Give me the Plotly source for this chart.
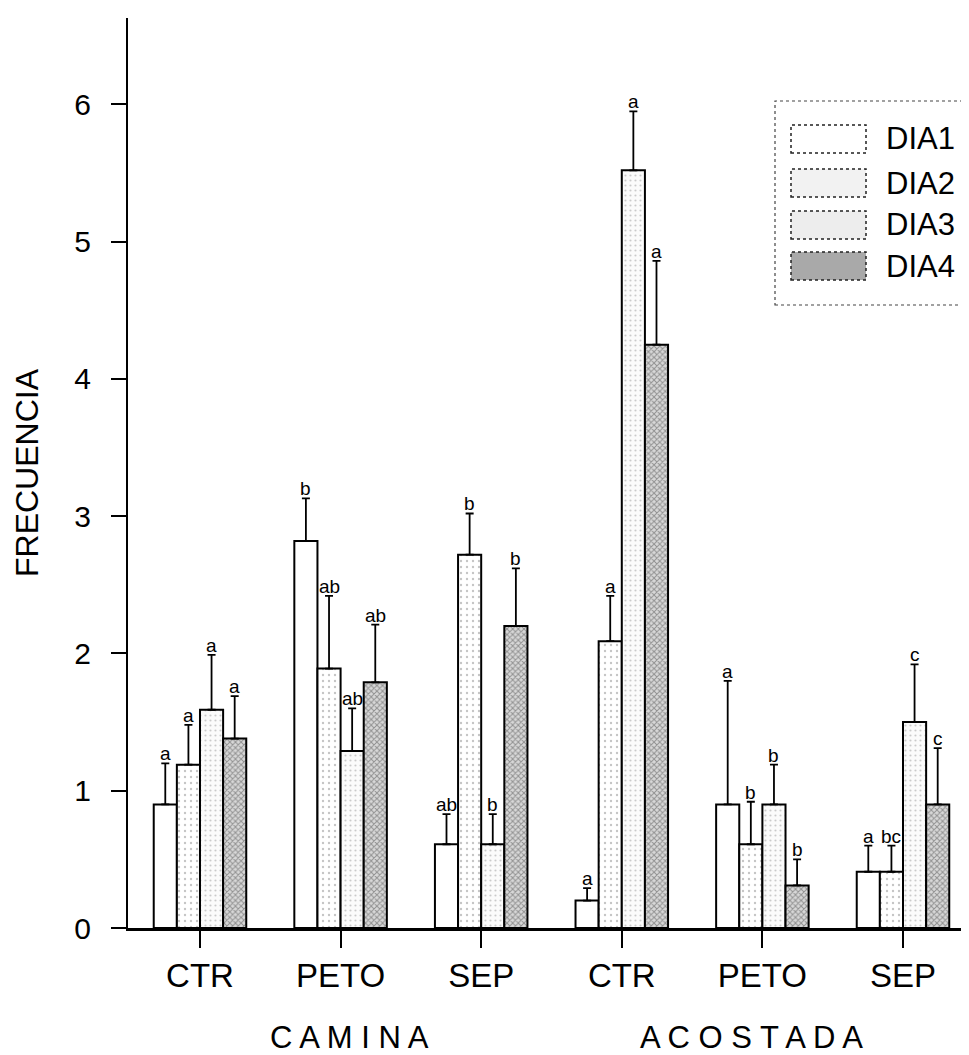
import plotly.graph_objects as go

# ---------------- data ----------------
groups = ["C A M I N A", "A C O S T A D A"]
conditions = ["CTR", "PETO", "SEP", "CTR", "PETO", "SEP"]
series = ["DIA1", "DIA2", "DIA3", "DIA4"]
y_ticks = [0, 1, 2, 3, 4, 5, 6]

dia1 = [0.90, 2.82, 0.61, 0.20, 0.90, 0.41]
dia2 = [1.19, 1.89, 2.72, 2.09, 0.61, 0.41]
dia3 = [1.59, 1.29, 0.61, 5.52, 0.90, 1.50]
dia4 = [1.38, 1.79, 2.20, 4.25, 0.31, 0.90]

err1 = [0.30, 0.31, 0.22, 0.09, 0.90, 0.19]
err2 = [0.29, 0.53, 0.30, 0.33, 0.31, 0.19]
err3 = [0.40, 0.31, 0.22, 0.43, 0.29, 0.42]
err4 = [0.31, 0.42, 0.42, 0.61, 0.19, 0.41]

let1 = ["a", "b", "ab", "a", "a", "a"]
let2 = ["a", "ab", "b", "a", "b", "bc"]
let3 = ["a", "ab", "b", "a", "b", "c"]
let4 = ["a", "ab", "b", "a", "b", "c"]

values = [dia1, dia2, dia3, dia4]
errors = [err1, err2, err3, err4]
letters = [let1, let2, let3, let4]

# ---------------- styles ----------------
FONT = "Liberation Sans, Arial, sans-serif"
W, H = 969, 1055
ML, MR, MT, MB = 120, 3, 10, 135
BAR_W = 0.1645
XR = [-0.512, 5.505]
YR = [0, 6.63]

patterns = [
    dict(shape="", fgcolor="black", bgcolor="white"),
    dict(shape=".", fgcolor="#8a8a8a", bgcolor="white", size=6, solidity=0.12),
    dict(shape=".", fgcolor="#9a9a9a", bgcolor="#fbfbfb", size=5, solidity=0.15),
    dict(shape="x", fgcolor="#4a4a4a", bgcolor="#d8d8d8", size=4, solidity=0.45),
]
swatch_fill = ["white", "#f2f2f2", "#ededed", "#a9a9a9"]

xpos = list(range(len(conditions)))

fig = go.Figure()
for k, name in enumerate(series):
    off = (k - 2) * BAR_W
    fig.add_trace(go.Bar(
        x=xpos, y=values[k], name=name,
        offset=off, width=BAR_W,
        marker=dict(color="white", pattern=patterns[k],
                    line=dict(color="black", width=2)),
        error_y=dict(type="data", symmetric=False, array=errors[k],
                     arrayminus=[0] * len(errors[k]),
                     color="black", thickness=1.8, width=4),
        showlegend=False,
    ))
    for i in xpos:
        fig.add_annotation(
            x=i + off + BAR_W / 2, y=values[k][i] + errors[k][i],
            text=letters[k][i], showarrow=False,
            xanchor="center", yanchor="bottom", yshift=-3,
            font=dict(family=FONT, size=19, color="black"),
        )

pw = W - ML - MR
ph = H - MT - MB


def px2x(px):
    return (px - ML) / pw


def py2y(py):
    return (MT + ph - py) / ph


# manual legend
fig.add_shape(type="rect", xref="paper", yref="paper",
              x0=px2x(767), x1=px2x(975), y0=py2y(297), y1=py2y(93),
              line=dict(color="#444", width=1.2, dash="dot"),
              fillcolor="white", layer="above")
row_c = [131, 175, 217, 258]
for k, name in enumerate(series):
    fig.add_shape(type="rect", xref="paper", yref="paper",
                  x0=px2x(783), x1=px2x(858),
                  y0=py2y(row_c[k] + 14), y1=py2y(row_c[k] - 14),
                  line=dict(color="#222", width=1.5, dash="dot"),
                  fillcolor=swatch_fill[k], layer="above")
    fig.add_annotation(xref="paper", yref="paper",
                       x=px2x(876), y=py2y(row_c[k]), text=name,
                       showarrow=False, xanchor="left", yanchor="middle",
                       font=dict(family=FONT, size=31, color="black"))

# group labels
group_x = [1.06, 3.92]
for g, gx in zip(groups, group_x):
    fig.add_annotation(x=gx, xref="x", yref="paper", y=py2y(1029),
                       text=g, showarrow=False, xanchor="center",
                       yanchor="middle",
                       font=dict(family=FONT, size=31, color="black"))

fig.update_layout(
    width=W, height=H,
    margin=dict(l=ML, r=MR, t=MT, b=MB),
    paper_bgcolor="white", plot_bgcolor="white",
    barmode="overlay",
    font=dict(family=FONT, color="black"),
    xaxis=dict(
        range=XR, tickmode="array", tickvals=xpos, ticktext=conditions,
        ticks="outside", ticklen=17, tickwidth=2, tickcolor="black",
        showline=True, linecolor="black", linewidth=2.5,
        showgrid=False, zeroline=False,
        tickfont=dict(family=FONT, size=33, color="black"),
        ticklabelstandoff=0,
    ),
    yaxis=dict(
        range=YR, tickmode="array", tickvals=y_ticks,
        ticktext=[str(t) for t in y_ticks],
        ticks="outside", ticklen=15, tickwidth=1.5, tickcolor="black",
        showline=True, linecolor="black", linewidth=2,
        showgrid=False, zeroline=False,
        tickfont=dict(family=FONT, size=30, color="black"),
        ticklabelstandoff=14,
        title=dict(text="FRECUENCIA", standoff=26,
                   font=dict(family=FONT, size=32, color="black")),
    ),
)

fig.write_html("out.html")
